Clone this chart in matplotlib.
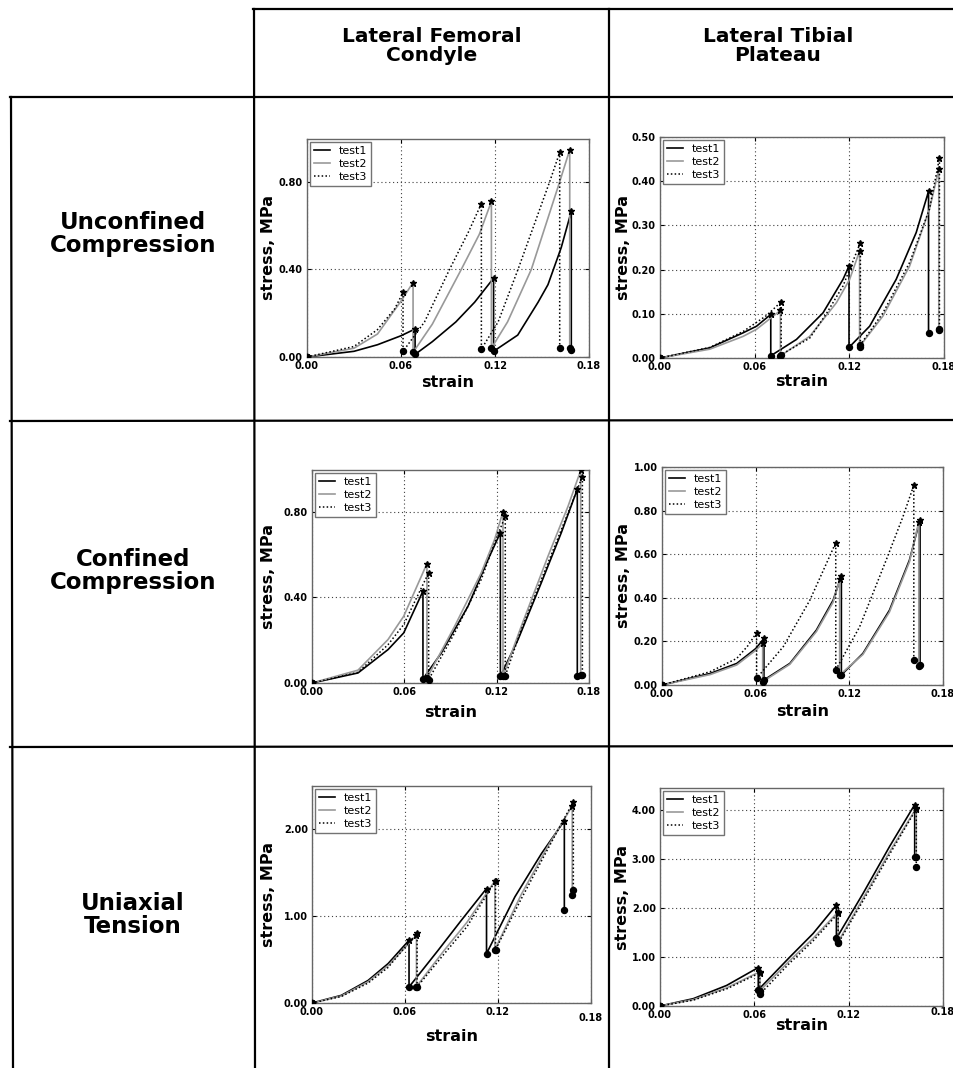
import matplotlib
matplotlib.use("Agg")
import matplotlib.pyplot as plt
from matplotlib.lines import Line2D
from matplotlib.transforms import ScaledTranslation

# ---------------- data (strain, stress in MPa) ----------------
TESTS = ["test1", "test2", "test3"]
COLS = ["Lateral Femoral\nCondyle", "Lateral Tibial\nPlateau"]
ROWS = ["Unconfined\nCompression", "Confined\nCompression", "Uniaxial\nTension"]

# Lateral femoral condyle, unconfined compression
lfc_unc_strain = [
    [0, 0.030, 0.045, 0.060, 0.069, 0.069, 0.080, 0.095, 0.107, 0.1191, 0.1191,
     0.1345, 0.1475, 0.1538, 0.1623, 0.1687, 0.1687],
    [0, 0.030, 0.045, 0.060, 0.0677, 0.0677, 0.080, 0.0985, 0.110, 0.1177, 0.1177,
     0.128, 0.1432, 0.1613, 0.1677, 0.1677],
    [0, 0.030, 0.045, 0.056, 0.0613, 0.0613, 0.075, 0.091, 0.103, 0.1113, 0.1113,
     0.122, 0.1347, 0.1549, 0.1613, 0.1613],
]
lfc_unc_stress = [
    [0, 0.026, 0.056, 0.097, 0.128, 0.012, 0.070, 0.160, 0.250, 0.360, 0.026,
     0.100, 0.250, 0.330, 0.500, 0.665, 0.030],
    [0, 0.040, 0.105, 0.255, 0.340, 0.021, 0.150, 0.400, 0.560, 0.710, 0.040,
     0.160, 0.400, 0.800, 0.946, 0.040],
    [0, 0.048, 0.125, 0.220, 0.295, 0.026, 0.160, 0.400, 0.570, 0.700, 0.036,
     0.160, 0.400, 0.800, 0.934, 0.040],
]

# Lateral tibial plateau, unconfined compression
ltp_unc_strain = [
    [0, 0.0316, 0.0527, 0.0612, 0.0702, 0.0702, 0.0865, 0.1033, 0.116, 0.1198, 0.1198,
     0.1329, 0.1497, 0.1624, 0.1702, 0.1702],
    [0, 0.0316, 0.0527, 0.0612, 0.0763, 0.0763, 0.0949, 0.1118, 0.1202, 0.1265, 0.1265,
     0.1413, 0.1582, 0.1708, 0.1767, 0.1767],
    [0, 0.0316, 0.0527, 0.0675, 0.0768, 0.0768, 0.0949, 0.1054, 0.116, 0.127, 0.127,
     0.1413, 0.1582, 0.1708, 0.1771, 0.1771],
]
ltp_unc_stress = [
    [0, 0.023, 0.057, 0.072, 0.0985, 0.005, 0.042, 0.102, 0.178, 0.208, 0.024,
     0.072, 0.178, 0.284, 0.377, 0.057],
    [0, 0.020, 0.049, 0.065, 0.1076, 0.005, 0.049, 0.125, 0.178, 0.242, 0.026,
     0.095, 0.208, 0.337, 0.4265, 0.064],
    [0, 0.024, 0.060, 0.096, 0.127, 0.0076, 0.045, 0.100, 0.163, 0.261, 0.030,
     0.102, 0.216, 0.337, 0.452, 0.066],
]

# Lateral femoral condyle, confined compression
lfc_con_strain = [
    [0, 0.0299, 0.0494, 0.0596, 0.0721, 0.0721, 0.084, 0.1014, 0.1144, 0.1224, 0.1224,
     0.1339, 0.149, 0.162, 0.1724, 0.1724],
    [0, 0.0299, 0.0494, 0.0596, 0.0747, 0.0747, 0.0927, 0.110, 0.1187, 0.1241, 0.1241,
     0.136, 0.1534, 0.1664, 0.1746, 0.1746],
    [0, 0.0299, 0.0494, 0.0596, 0.0758, 0.0758, 0.0927, 0.110, 0.1187, 0.1256, 0.1256,
     0.136, 0.1534, 0.1664, 0.1757, 0.1757],
]
lfc_con_stress = [
    [0, 0.047, 0.156, 0.234, 0.429, 0.019, 0.140, 0.359, 0.577, 0.702, 0.031,
     0.203, 0.468, 0.702, 0.905, 0.031],
    [0, 0.060, 0.203, 0.312, 0.558, 0.023, 0.265, 0.515, 0.671, 0.800, 0.031,
     0.265, 0.593, 0.826, 0.993, 0.039],
    [0, 0.050, 0.179, 0.273, 0.515, 0.016, 0.234, 0.484, 0.655, 0.780, 0.034,
     0.250, 0.562, 0.795, 0.964, 0.039],
]

# Lateral tibial plateau, confined compression
ltp_con_strain = [
    [0, 0.0309, 0.0479, 0.0602, 0.0653, 0.0653, 0.0819, 0.0989, 0.1096, 0.1149, 0.1149,
     0.1287, 0.1457, 0.1585, 0.1653, 0.1653],
    [0, 0.0309, 0.0479, 0.0602, 0.0645, 0.0645, 0.0819, 0.0989, 0.1096, 0.1138, 0.1138,
     0.1287, 0.1457, 0.1585, 0.1645, 0.1645],
    [0, 0.0309, 0.0479, 0.055, 0.0606, 0.0606, 0.0777, 0.0947, 0.1053, 0.1113, 0.1113,
     0.1266, 0.1436, 0.1543, 0.1613, 0.1613],
]
ltp_con_stress = [
    [0, 0.053, 0.099, 0.168, 0.214, 0.023, 0.099, 0.252, 0.389, 0.500, 0.046,
     0.145, 0.343, 0.573, 0.759, 0.092],
    [0, 0.048, 0.092, 0.160, 0.191, 0.015, 0.095, 0.245, 0.380, 0.484, 0.046,
     0.140, 0.335, 0.565, 0.748, 0.087],
    [0, 0.061, 0.122, 0.180, 0.240, 0.031, 0.176, 0.389, 0.557, 0.653, 0.069,
     0.267, 0.573, 0.771, 0.916, 0.115],
]

# Lateral femoral condyle, uniaxial tension
lfc_ten_strain = [
    [0, 0.0189, 0.0362, 0.0491, 0.0626, 0.0626, 0.0814, 0.0964, 0.1126, 0.1126,
     0.1309, 0.1481, 0.1628, 0.1628],
    [0, 0.0189, 0.0362, 0.0491, 0.0674, 0.0674, 0.085, 0.100, 0.118, 0.118,
     0.135, 0.152, 0.1679, 0.1679],
    [0, 0.0189, 0.0362, 0.0491, 0.0678, 0.0678, 0.085, 0.100, 0.1184, 0.1184,
     0.135, 0.152, 0.1686, 0.1686],
]
lfc_ten_stress = [
    [0, 0.088, 0.260, 0.454, 0.723, 0.185, 0.608, 0.954, 1.319, 0.569,
     1.223, 1.723, 2.100, 1.077],
    [0, 0.080, 0.245, 0.430, 0.780, 0.190, 0.600, 0.930, 1.408, 0.615,
     1.250, 1.800, 2.270, 1.242],
    [0, 0.075, 0.230, 0.410, 0.808, 0.185, 0.560, 0.880, 1.408, 0.615,
     1.200, 1.770, 2.320, 1.300],
]

# Lateral tibial plateau, uniaxial tension
ltp_ten_strain = [
    [0, 0.0212, 0.0424, 0.0625, 0.0625, 0.0826, 0.0974, 0.1122, 0.1122,
     0.1292, 0.1461, 0.162, 0.162],
    [0, 0.0212, 0.0424, 0.0635, 0.0635, 0.0826, 0.0974, 0.1133, 0.1133,
     0.1292, 0.1461, 0.163, 0.163],
    [0, 0.0212, 0.0424, 0.0635, 0.0635, 0.0826, 0.0974, 0.1133, 0.1133,
     0.1292, 0.1461, 0.163, 0.163],
]
ltp_ten_stress = [
    [0, 0.15, 0.42, 0.785, 0.33, 1.00, 1.48, 2.06, 1.38, 2.30, 3.26, 4.11, 3.05],
    [0, 0.13, 0.37, 0.700, 0.31, 0.93, 1.38, 1.92, 1.31, 2.20, 3.15, 4.04, 3.04],
    [0, 0.12, 0.35, 0.676, 0.24, 0.88, 1.33, 1.89, 1.28, 2.15, 3.10, 4.02, 2.83],
]

# ---------------- layout (pixel boxes on a 954x1068 canvas) ----------------
W, H = 954, 1068
fig = plt.figure(figsize=(W / 100, H / 100), dpi=100)

def fx(x): return x / W
def fy(y): return 1 - y / H

panels = [
    # data, pixel box (x0, y0, x1, y1), ylim, yticks, xlabel centre offset, ylabel centre x
    (lfc_unc_strain, lfc_unc_stress, (307, 139, 589, 357), 0.995, [0, 0.4, 0.8], 26, 268),
    (ltp_unc_strain, ltp_unc_stress, (660, 137, 944, 358), 0.50, [0, .1, .2, .3, .4, .5], 24, 623),
    (lfc_con_strain, lfc_con_stress, (312, 470, 589, 683), 0.995, [0, 0.4, 0.8], 30, 268),
    (ltp_con_strain, ltp_con_stress, (662, 467, 943, 685), 1.0, [0, .2, .4, .6, .8, 1.0], 27, 623),
    (lfc_ten_strain, lfc_ten_stress, (312, 786, 591, 1003), 2.5, [0, 1, 2], 34, 268),
    (ltp_ten_strain, ltp_ten_stress, (660, 788, 943, 1006), 4.45, [0, 1, 2, 3, 4], 20, 622),
]

STYLES = [dict(color="black", ls="-", lw=1.2),
          dict(color="0.6", ls="-", lw=1.2),
          dict(color="black", ls=(0, (1, 1.5)), lw=1.1)]

for k, (sx, sy, box, ytop, yt, xl_off, yl_x) in enumerate(panels):
    x0, y0, x1, y1 = box
    ax = fig.add_axes([fx(x0), fy(y1), (x1 - x0) / W, (y1 - y0) / H])
    for i in range(3):
        ax.plot(sx[i], sy[i], label=TESTS[i], **STYLES[i])
    # star at each peak, dot after each relaxation drop (and at the origin)
    for i in range(3):
        xs, ys = sx[i], sy[i]
        px, py, rx, ry = [], [], [xs[0]], [ys[0]]
        for j in range(len(xs) - 1):
            if xs[j + 1] == xs[j] and ys[j + 1] < ys[j]:
                px.append(xs[j]); py.append(ys[j])
                rx.append(xs[j + 1]); ry.append(ys[j + 1])
        ax.plot(px, py, ls="none", marker="*", ms=4.5, color="black", zorder=4)
        ax.plot(rx, ry, ls="none", marker="o", ms=4.3, color="black", zorder=4)

    ax.set_xlim(0, 0.18)
    ax.set_ylim(0, ytop)
    ax.set_xticks([0, 0.06, 0.12, 0.18])
    ax.set_xticklabels(["0.00", "0.06", "0.12", "0.18"])
    ax.set_yticks(yt)
    ax.set_yticklabels([f"{v:.2f}" for v in yt])
    ax.tick_params(direction="in", length=3, top=True, right=True, pad=3,
                   labelsize=7)
    for lab in ax.get_xticklabels() + ax.get_yticklabels():
        lab.set_fontweight("bold")
    ax.grid(True, color="0.25", ls=(0, (1, 2.5)), lw=0.8)
    for sp in ax.spines.values():
        sp.set_color("0.4")
        sp.set_linewidth(1.0)

    ax.set_xlabel("strain", fontsize=11.5, fontweight="bold")
    ax.xaxis.set_label_coords(0.5, -(xl_off - 8) / (y1 - y0))
    ax.set_ylabel("stress, MPa", fontsize=11.5, fontweight="bold")
    ax.yaxis.set_label_coords((yl_x + 8 - x0) / (x1 - x0), 0.5)

    leg = ax.legend(loc="upper left", fontsize=8, handlelength=1.4,
                    handletextpad=0.8, borderpad=0.35, labelspacing=0.25,
                    fancybox=False, framealpha=1, borderaxespad=0.3)
    leg.get_frame().set_edgecolor("0.45")
    leg.get_frame().set_linewidth(1.0)

    # odd positions of the 0.18 label in the tension row
    if k == 4:
        lab = ax.get_xticklabels()[-1]
        lab.set_transform(lab.get_transform() + ScaledTranslation(0, -6 / 100, fig.dpi_scale_trans))
    if k == 5:
        lab = ax.get_xticklabels()[-1]
        lab.set_transform(lab.get_transform() + ScaledTranslation(0, 3 / 100, fig.dpi_scale_trans))

# ---------------- table lines and headings ----------------
segs = [((253, 9), (954, 9)), ((10, 97), (954, 97)), ((10, 421), (954, 420)),
        ((10, 747), (954, 746)), ((11, 97), (13, 1068)), ((254, 9), (255, 1068)),
        ((609, 9), (609, 1068))]
for (xa, ya), (xb, yb) in segs:
    fig.add_artist(Line2D([fx(xa), fx(xb)], [fy(ya), fy(yb)], color="black", lw=1.6))

fig.text(fx(432), fy(46), COLS[0], ha="center", va="center", fontsize=14.5,
         fontweight="bold", linespacing=1.05)
fig.text(fx(778), fy(46), COLS[1], ha="center", va="center", fontsize=14.5,
         fontweight="bold", linespacing=1.05)
for name, yc in zip(ROWS, [234, 571, 915]):
    fig.text(fx(133), fy(yc), name, ha="center", va="center", fontsize=16.5,
             fontweight="bold", linespacing=0.95)

fig.savefig("out.png", dpi=100)
